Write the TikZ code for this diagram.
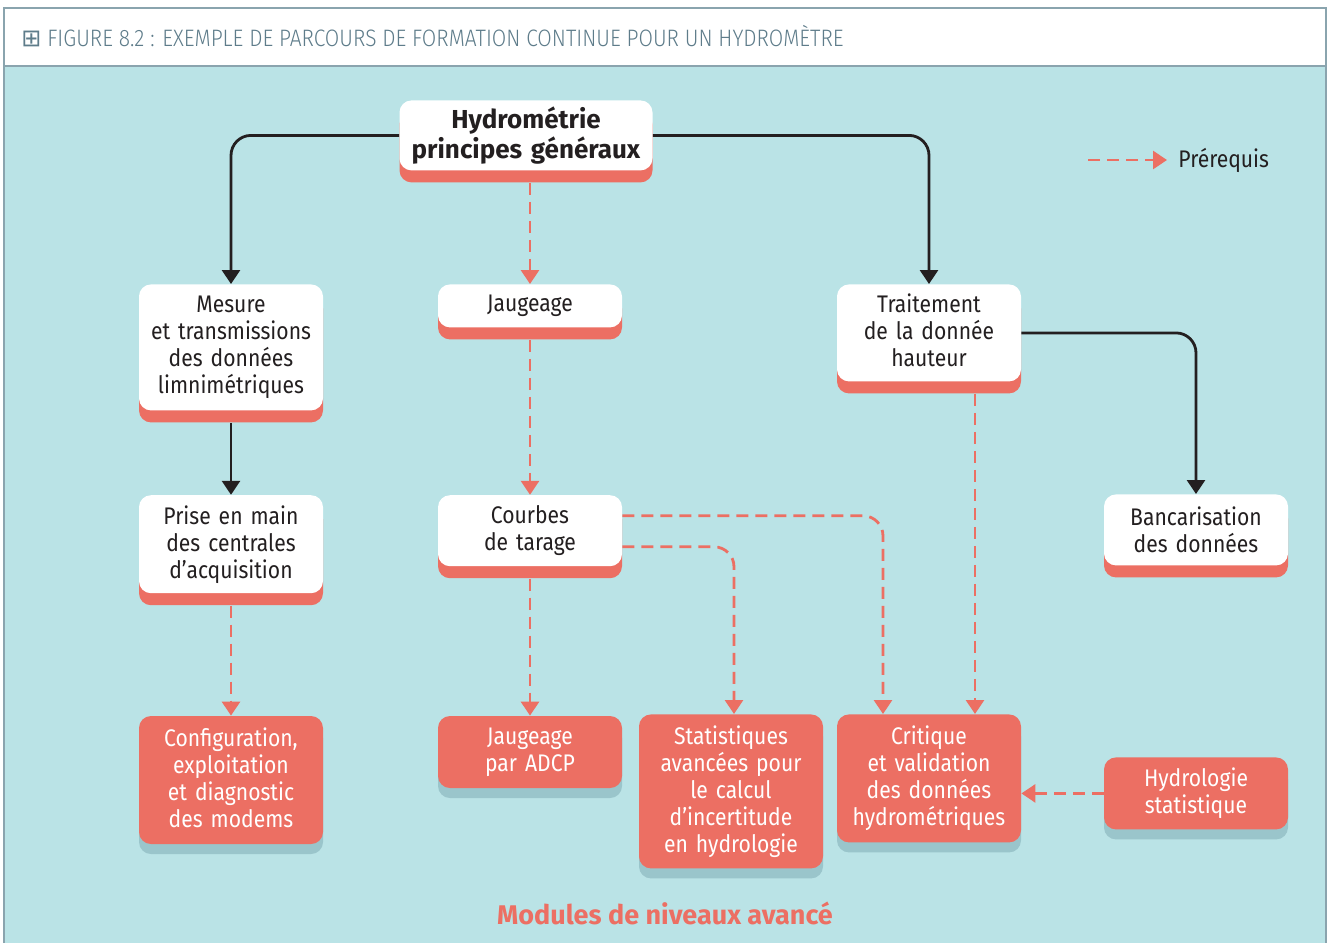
\documentclass[tikz,border=0pt]{standalone}
\usepackage{fontspec}
\setmainfont[FakeStretch=0.88]{Fira Sans}
\newfontfamily\lightfont[FakeStretch=0.88]{Fira Sans Light}
\newfontfamily\wideface{Fira Sans}
\newfontfamily\symfont{DejaVu Sans}
\usetikzlibrary{arrows.meta,positioning,shadows}
\definecolor{salmon}{RGB}{236,111,99}
\definecolor{paleteal}{RGB}{186,227,230}
\definecolor{shadeteal}{RGB}{154,197,203}
\definecolor{inkdark}{RGB}{35,31,32}
\definecolor{slategrey}{RGB}{94,124,138}
\definecolor{framegrey}{RGB}{138,164,174}
\tikzset{
  module/.style={rounded corners=6pt,minimum width=92pt,text width=88pt,
    align=center,inner sep=2pt,anchor=north,
    font=\fontsize{12}{13.5}\selectfont},
  basemod/.style={module,fill=white,text=inkdark,
    general shadow={fill=salmon,shadow yshift=-6pt}},
  advmod/.style={module,fill=salmon,text=white,
    general shadow={fill=shadeteal,shadow yshift=-5pt}},
  link/.style={draw=inkdark,line width=1.4pt,rounded corners=10pt,
    -{Triangle[width=9pt,length=7pt]}},
  prereq/.style={draw=salmon,line width=1.4pt,dash pattern=on 6pt off 3.5pt,
    rounded corners=10pt,-{Triangle[width=9pt,length=7pt]}}
}
\begin{document}
\begin{tikzpicture}[x=0.5pt,y=-0.5pt]
\useasboundingbox (0,0) rectangle (1332,943);
% frame and title band
\fill[paleteal] (4,66) rectangle (1326,943);
\draw[framegrey,line width=1pt] (4,943) -- (4,8) -- (1326,8) -- (1326,943);
\draw[framegrey,line width=1pt] (4,66) -- (1326,66);
\node[anchor=west,inner sep=0pt,text=slategrey,
  font=\lightfont\fontsize{11.9}{14}\selectfont] (title) at (21,36)
  {{\symfont\fontsize{12}{12}\selectfont ⊞} FIGURE 8.2 : EXEMPLE DE PARCOURS DE FORMATION CONTINUE POUR UN HYDROMÈTRE};

% basic modules
\node[basemod,minimum width=126.5pt,text width=122pt,minimum height=35pt,
  font=\wideface\bfseries\fontsize{13}{13.5}\selectfont] (hydro) at (526,100)
  {Hydrométrie\\principes généraux};
\node[basemod,minimum height=63pt] (mesure) at (231,284)
  {Mesure\\et transmissions\\des données\\limnimétriques};
\node[basemod,minimum height=21.5pt] (jaugeage) at (530,284) {Jaugeage};
\node[basemod,minimum height=48.5pt] (traitement) at (929,284)
  {Traitement\\de la donnée\\hauteur\vphantom{p}};
\node[basemod,minimum height=49pt,below=42pt of mesure] (prise)
  {Prise en main\\des centrales\\d’acquisition};
\node[basemod,minimum height=35.5pt,below=83.5pt of jaugeage] (courbes)
  {Courbes\\de tarage};
\node[basemod,minimum height=35.5pt] (bancar) at (1196,494)
  {Bancarisation\\des données};

% advanced modules
\node[advmod,minimum height=64pt,below=61pt of prise] (config)
  {Configuration,\\exploitation\\et diagnostic\\des modems\vphantom{p}};
\node[advmod,minimum height=36pt,below=74.5pt of courbes] (adcp)
  {Jaugeage\\par ADCP};
\node[advmod,minimum height=77pt] (stats) at (731,714)
  {Statistiques\\avancées pour\\le calcul\\d’incertitude\\en hydrologie};
\node[advmod,minimum height=64pt] (critique) at (929,714)
  {Critique\\et validation\\des données\\hydrométriques};
\node[advmod,minimum height=36pt] (hydrol) at (1196,757)
  {Hydrologie\\statistique};

% legend and caption
\coordinate (legstart) at (1088,160);
\node[anchor=west,inner sep=0pt,text=inkdark,font=\fontsize{12}{14}\selectfont]
  (legend) at (1178,160) {Prérequis};
\node[text=salmon,font=\wideface\bfseries\fontsize{13.5}{15}\selectfont] (advlabel)
  at (665,913) {Modules de niveaux avancé};

% sequence
\draw[link] (hydro.west) -| (mesure.north);
\draw[link] (hydro.east) -| (traitement.north);
\draw[link] ([yshift=-6pt]mesure.south) -- (prise.north);
\draw[link] (traitement.east) -| (bancar.north);

% prerequisites
\draw[prereq] ([yshift=-6pt]hydro.south -| jaugeage.north) -- (jaugeage.north);
\draw[prereq] ([yshift=-6pt]jaugeage.south) -- (courbes.north);
\draw[prereq] ([yshift=-6pt]courbes.south) -- (adcp.north);
\draw[prereq] ([yshift=-6pt]prise.south) -- (config.north);
\draw[prereq] ([yshift=-10.5pt]courbes.north east) -| ([xshift=-23pt]critique.north);
\draw[prereq] ([yshift=-26pt]courbes.north east) -| ([xshift=1.5pt]stats.north);
\draw[prereq] ([xshift=23pt,yshift=-6pt]traitement.south) -- ([xshift=23pt]critique.north);
\draw[prereq] (hydrol.west) -- (critique.east |- hydrol.west);
\draw[prereq,shorten >=5.5pt] (legstart) -- (legend.west);
\end{tikzpicture}
\end{document}
